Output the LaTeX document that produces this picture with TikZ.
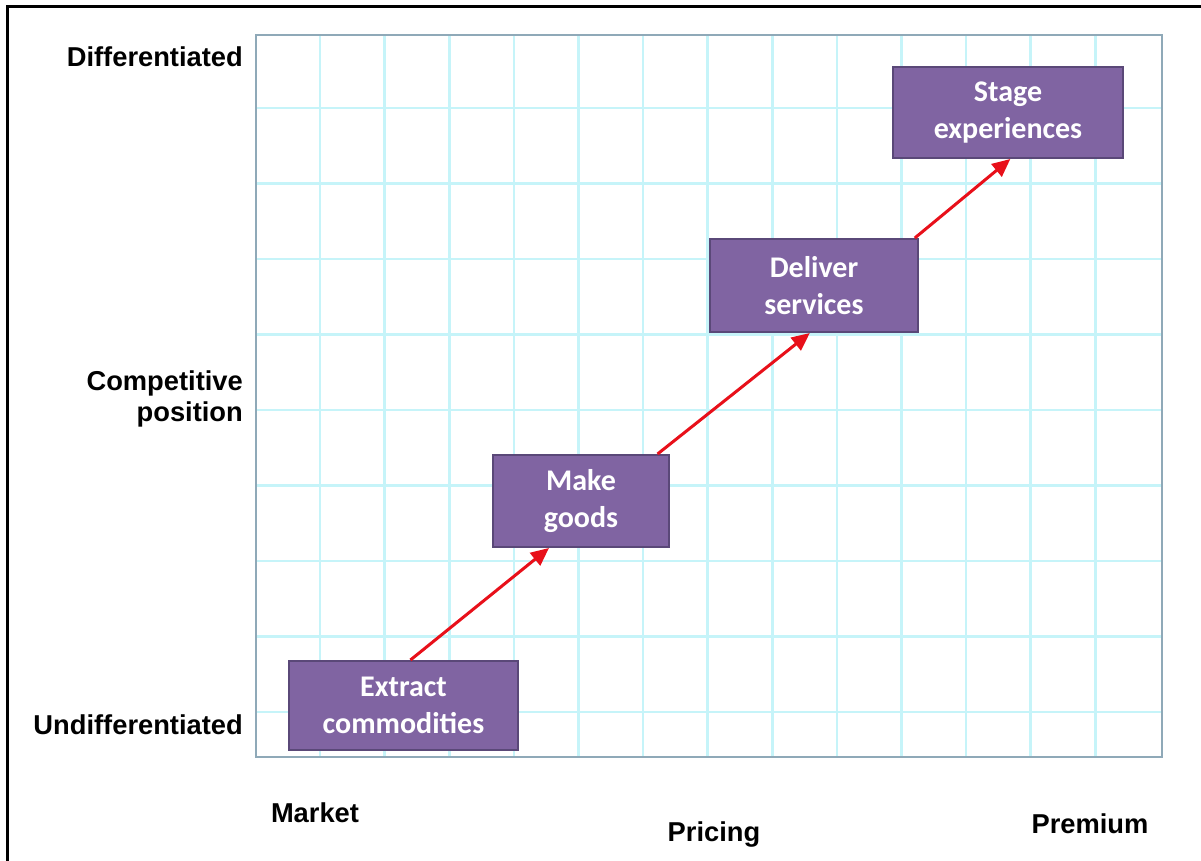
\documentclass[tikz,border=0pt]{standalone}
\usepackage{fontspec}
\usetikzlibrary{calc,arrows.meta}
\newfontfamily\labfont{Liberation Sans}
\newfontfamily\stagefont{Carlito}
\definecolor{gridc}{HTML}{C6F4F9}
\definecolor{framec}{HTML}{8FA9B8}
\definecolor{boxfill}{HTML}{8064A2}
\definecolor{boxline}{HTML}{5A4878}
\definecolor{arrred}{HTML}{E8101A}
\tikzset{
  stagebox/.style={draw=boxline, line width=2pt, fill=boxfill, text=white,
    font=\stagefont\bfseries\fontsize{30}{37}\selectfont, align=center,
    inner sep=0pt, anchor=north west},
  axlabel/.style={font=\labfont\bfseries\fontsize{27.3}{31}\selectfont, text=black, inner sep=0pt},
  redarrow/.style={draw=arrred, line width=3pt, -{Triangle[length=18pt,width=16pt]}}
}
\begin{document}
\begin{tikzpicture}[x=1pt,y=-1pt]
\useasboundingbox (0,0) rectangle (1201,861);
\fill[white] (0,0) rectangle (1201,861);
% outer border
\draw[black, line width=3pt] (7,861) -- (7,7) -- (1201,7);
% grid
\foreach \k in {0,...,12} {
  \draw[gridc, line width=2.6pt] ({320+64.6*\k},35) -- ({320+64.6*\k},757);
}
\foreach \k in {0,...,8} {
  \draw[gridc, line width=2.6pt] (256,{108+75.5*\k}) -- (1162,{108+75.5*\k});
}
\draw[framec, line width=2pt] (256,35) rectangle (1162,757);
% boxes
\node[stagebox, minimum width=229pt, minimum height=89pt] (ext) at (288,660) {Extract\\commodities};
\node[stagebox, minimum width=176pt, minimum height=92pt] (mg) at (492,454) {Make\\goods};
\node[stagebox, minimum width=208pt, minimum height=93pt] (ds) at (709,238) {Deliver\\services};
\node[stagebox, minimum width=230pt, minimum height=91pt] (se) at (892,66) {Stage\\experiences};
% arrows
\draw[redarrow] ($(ext.north west)!0.53!(ext.north east)$) -- ($(mg.south west)!0.32!(mg.south east)$);
\draw[redarrow] ($(mg.north west)!0.93!(mg.north east)$) -- ($(ds.south west)!0.48!(ds.south east)$);
\draw[redarrow] ($(ds.north west)!0.98!(ds.north east)$) -- ($(se.south west)!0.51!(se.south east)$);
% labels
\node[axlabel, anchor=east] (diff) at (243,57) {Differentiated};
\node[axlabel, anchor=east, align=right] (comp) at (243,399) {Competitive\\position};
\node[axlabel, anchor=east] (undiff) at (243,725) {Undifferentiated};
\node[axlabel] (market) at (315,813) {Market};
\node[axlabel] (pricing) at (714,834) {Pricing};
\node[axlabel] (premium) at (1090,824) {Premium};
\end{tikzpicture}
\end{document}
